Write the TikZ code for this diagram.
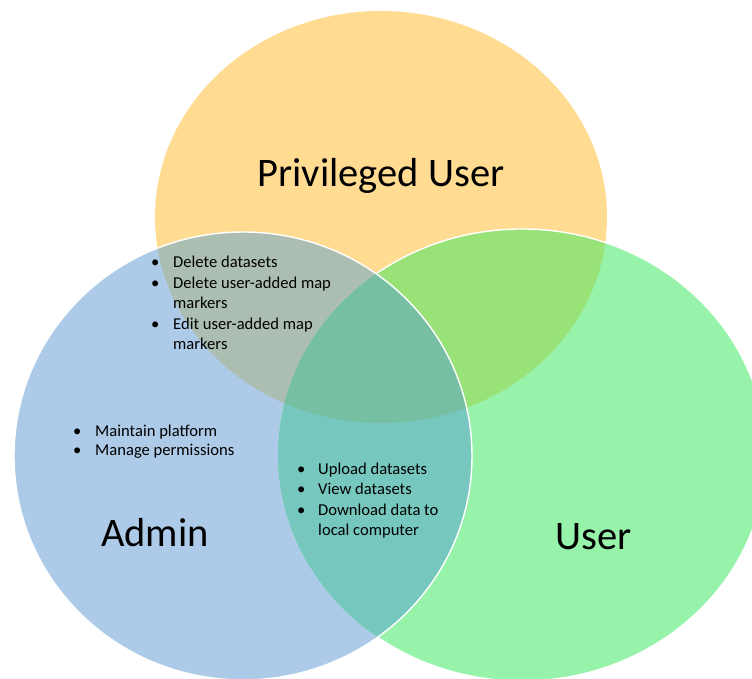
\documentclass[tikz,border=0pt]{standalone}
\usepackage{fontspec}
\setmainfont{Carlito}

% fills for single sets and their overlaps
\definecolor{privfill}{HTML}{FFDC91}
\definecolor{adminfill}{HTML}{ADCBE8}
\definecolor{userfill}{HTML}{97F2AA}
\definecolor{pafill}{HTML}{ACBEB2}
\definecolor{pufill}{HTML}{98E278}
\definecolor{aufill}{HTML}{76C8BE}
\definecolor{allfill}{HTML}{77BFA2}

% the three set outlines
\def\privshape{(cp) ellipse [x radius=226pt, y radius=206pt]}
\def\adminshape{(ca) ellipse [x radius=229pt, y radius=224pt]}
\def\usershape{(cu) ellipse [x radius=244pt, y radius=226pt]}

\begin{document}
\begin{tikzpicture}[x=1pt,y=-1pt,
  setname/.style={font=\fontsize{40.5}{48}\selectfont, inner sep=0pt, anchor=base},
  duties/.style={font=\fontsize{16.6}{19.8}\selectfont, inner sep=0pt, anchor=base west, align=left},
  rim/.style={draw=white, line width=1.4pt}]
\useasboundingbox (0,0) rectangle (752,679);
\clip (0,0) rectangle (752,679);

\coordinate (cp) at (381,217);
\coordinate (ca) at (243,456);
\coordinate (cu) at (522,455);

% single sets
\fill[privfill] \privshape;
\fill[adminfill] \adminshape;
\fill[userfill] \usershape;

% pairwise overlaps
\begin{scope}\clip \privshape; \fill[pafill] \adminshape;\end{scope}
\begin{scope}\clip \privshape; \fill[pufill] \usershape;\end{scope}
\begin{scope}\clip \adminshape; \fill[aufill] \usershape;\end{scope}

% common region
\begin{scope}\clip \privshape; \clip \adminshape; \fill[allfill] \usershape;\end{scope}

% white rims: the user rim only outside the admin set
\begin{scope}[even odd rule]
  \clip (0,0) rectangle (752,679) \adminshape;
  \draw[rim] \usershape;
\end{scope}
\draw[rim] \adminshape;

% set names
\node[setname] (privname) at (381,186) {Privileged User};
\node[setname] (adminname) at (155,546) {Admin};
\node[setname] (username) at (594,549) {User};

% duties of each role
\node[duties] (privduties) at (151,267) {%
  \begin{tabular}[t]{@{}p{22pt}@{}l@{}}
  \textbullet & Delete datasets\\[1.5pt]
  \textbullet & Delete user-added map\\
              & markers\\[1.5pt]
  \textbullet & Edit user-added map\\
              & markers
  \end{tabular}};
\node[duties] (adminduties) at (73,436) {%
  \begin{tabular}[t]{@{}p{22pt}@{}l@{}}
  \textbullet & Maintain platform\\
  \textbullet & Manage permissions
  \end{tabular}};
\node[duties] (sharedduties) at (297,474) {%
  \begin{tabular}[t]{@{}p{21pt}@{}l@{}}
  \textbullet & Upload datasets\\[0.5pt]
  \textbullet & View datasets\\[1.5pt]
  \textbullet & Download data to\\
              & local computer
  \end{tabular}};
\end{tikzpicture}
\end{document}
